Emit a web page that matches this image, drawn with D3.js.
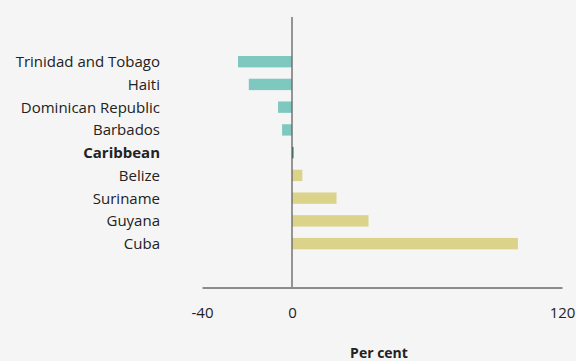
<!DOCTYPE html>
<html><head><meta charset="utf-8">
<script src="https://cdn.jsdelivr.net/npm/d3@7"></script>
<style>
html,body{margin:0;padding:0;background:#f5f5f5;}
svg{display:block;font-family:"Open Sans",Lato,sans-serif;}
</style></head>
<body><svg width="576" height="361"></svg>
<script>
const categories = ["Trinidad and Tobago","Haiti","Dominican Republic","Barbados","Caribbean","Belize","Suriname","Guyana","Cuba"];
const values = [-24, -19.2, -6.2, -4.4, 0.6, 4.6, 19.8, 34, 100.4];
const xTicks = [-40, 0, 120];
const xTitle = "Per cent";

const svg = d3.select("svg");
const x = d3.scaleLinear().domain([-40,120]).range([202,562]);
const y = d3.scaleBand().domain(categories).range([50.3,255]).paddingInner(0.5).paddingOuter(0.25);

const colorOf = (c,v) => c==="Caribbean" ? "#137a6d" : (v<0 ? "#7fc8bf" : "#dbd38a");

svg.append("g").selectAll("rect").data(categories).join("rect")
  .attr("x", (c,i)=> Math.min(x(0), x(values[i])))
  .attr("width", (c,i)=> Math.max(1.5, Math.abs(x(values[i])-x(0))))
  .attr("y", c=>y(c))
  .attr("height", y.bandwidth())
  .attr("fill", (c,i)=>colorOf(c,values[i]));

// category labels
svg.append("g").selectAll("text").data(categories).join("text")
  .attr("x", 160)
  .attr("y", c=>y(c)+y.bandwidth()/2)
  .attr("dy","0.36em")
  .attr("text-anchor","end")
  .attr("font-size",15)
  .attr("font-weight", c=> c==="Caribbean" ? "bold" : "normal")
  .attr("fill","#222")
  .text(c=>c);

// zero line
svg.append("line").attr("x1",x(0)).attr("x2",x(0)).attr("y1",17).attr("y2",287)
  .attr("stroke","#666").attr("stroke-opacity",0.85).attr("stroke-width",1.6);

// x axis
const axis = d3.axisBottom(x).tickValues(xTicks).tickSize(0).tickPadding(20).tickFormat(d=>String(d));
const ag = svg.append("g").attr("transform","translate(0,287.5)").call(axis);
ag.select(".domain").attr("stroke","#222").attr("stroke-width",1);
ag.selectAll("text").attr("font-size",15).attr("fill","#222").attr("font-family","'Open Sans',Lato,sans-serif");

svg.append("text").attr("x",379).attr("y",358).attr("text-anchor","middle")
  .attr("font-size",14).attr("font-weight","bold").attr("fill","#222").text(xTitle);
</script></body></html>
